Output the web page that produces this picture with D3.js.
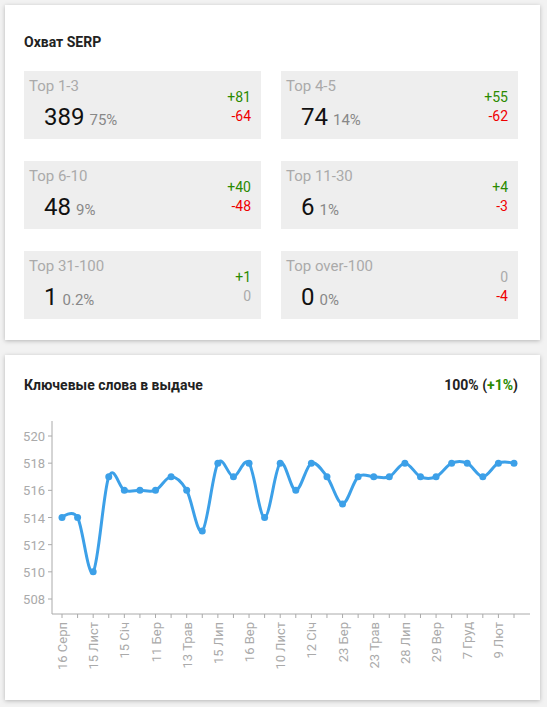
<!DOCTYPE html><html><head><meta charset="utf-8">
<script src="https://cdn.jsdelivr.net/npm/d3@7"></script>
<style>body{margin:0;background:#f2f2f2;font-family:Roboto,sans-serif}</style></head><body>
<svg id="c" width="547" height="707"></svg>
<script>
const groups=["Top 1-3","Top 4-5","Top 6-10","Top 11-30","Top 31-100","Top over-100"];
const counts=[389,74,48,6,1,0];
const shares=["75%","14%","9%","1%","0.2%","0%"];
const ups=[81,55,40,4,1,0];
const downs=[-64,-62,-48,-3,0,-4];
const dates=["16 Серп","","15 Лист","","15 Січ","","11 Бер","","13 Трав","","15 Лип","","16 Вер","","10 Лист","","12 Січ","","23 Бер","","23 Трав","","28 Лип","","29 Вер","","7 Груд","","9 Лют",""];
const values=[514,514,510,517,516,516,516,517,516,513,518,517,518,514,518,516,518,517,515,517,517,517,518,517,517,518,518,517,518,518];
const yTicks=[508,510,512,514,516,518,520];
const svg=d3.select("#c");
const defs=svg.append("defs");
const f=defs.append("filter").attr("id","sh").attr("x","-5%").attr("y","-5%").attr("width","110%").attr("height","110%");
f.append("feDropShadow").attr("dx",0).attr("dy",1).attr("stdDeviation",2).attr("flood-opacity",0.25);
svg.append("rect").attr("width",547).attr("height",707).attr("fill","#f2f2f2");
svg.append("rect").attr("x",5).attr("y",5).attr("width",535).attr("height",335).attr("fill","#fff").attr("filter","url(#sh)");
svg.append("rect").attr("x",5).attr("y",355).attr("width",535).attr("height",345).attr("fill","#fff").attr("filter","url(#sh)");
svg.append("text").attr("x",24).attr("y",47).attr("font-size",14).attr("font-weight","bold").attr("fill","#222").text("Охват SERP");
groups.forEach((g,i)=>{
 const x=24+(i%2)*257,y=71+Math.floor(i/2)*90;
 const G=svg.append("g").attr("transform",`translate(${x},${y})`);
 G.append("rect").attr("width",237).attr("height",68).attr("fill","#eeeeee");
 G.append("text").attr("x",5).attr("y",20).attr("font-size",15).attr("fill","#aaa").text(g);
 const t=G.append("text").attr("x",20).attr("y",54).attr("fill","#111");
 t.append("tspan").attr("font-size",24).text(counts[i]);
 t.append("tspan").attr("font-size",15).attr("fill","#888").attr("dx",5).text(shares[i]);
 G.append("text").attr("x",227).attr("y",31).attr("text-anchor","end").attr("font-size",14).attr("fill",ups[i]>0?"#2a8a00":"#aaa").text(ups[i]>0?"+"+ups[i]:ups[i]);
 G.append("text").attr("x",227).attr("y",50).attr("text-anchor","end").attr("font-size",14).attr("fill",downs[i]<0?"#e00":"#aaa").text(downs[i]);
});
svg.append("text").attr("x",24).attr("y",390).attr("font-size",14).attr("font-weight","bold").attr("fill","#222").text("Ключевые слова в выдаче");
const r=svg.append("text").attr("x",518).attr("y",390).attr("text-anchor","end").attr("font-size",14).attr("font-weight","bold").attr("fill","#222");
r.append("tspan").text("100% (");r.append("tspan").attr("fill","#2a8a00").text("+1%");r.append("tspan").text(")");
const x=d3.scalePoint().domain(d3.range(values.length)).range([62,514]);
const y=d3.scaleLinear().domain([508,520]).range([599,436]);
svg.append("line").attr("x1",52).attr("x2",52).attr("y1",421).attr("y2",614).attr("stroke","#aaa");
svg.append("line").attr("x1",52).attr("x2",530).attr("y1",614).attr("y2",614).attr("stroke","#aaa");
yTicks.forEach(v=>{
 svg.append("line").attr("x1",48).attr("x2",52).attr("y1",y(v)).attr("y2",y(v)).attr("stroke","#aaa");
 svg.append("text").attr("x",45).attr("y",y(v)+5).attr("text-anchor","end").attr("font-size",13).attr("fill","#aaa").text(v);
});
values.forEach((v,i)=>{
 svg.append("line").attr("x1",x(i)).attr("x2",x(i)).attr("y1",614).attr("y2",618).attr("stroke","#aaa");
 if(dates[i]) svg.append("text").attr("transform",`translate(${x(i)+5},622) rotate(-90)`).attr("text-anchor","end").attr("font-size",13).attr("fill","#aaa").text(dates[i]);
});
svg.append("path").datum(values).attr("fill","none").attr("stroke","#3ca0e8").attr("stroke-width",3)
 .attr("d",d3.line().x((d,i)=>x(i)).y(d=>y(d)).curve(d3.curveCardinal.tension(0)));
svg.selectAll("circle").data(values).join("circle").attr("cx",(d,i)=>x(i)).attr("cy",d=>y(d)).attr("r",3.5).attr("fill","#3ca0e8");
</script></body></html>
